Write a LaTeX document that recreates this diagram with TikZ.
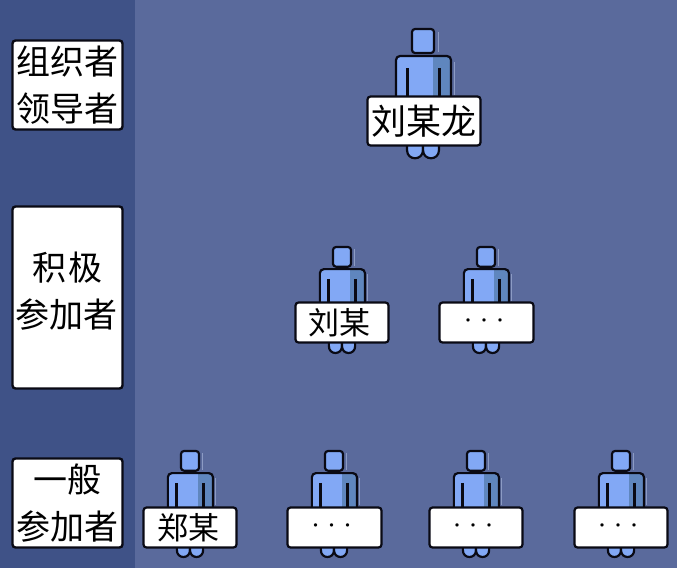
\documentclass[tikz,border=0pt]{standalone}
\usepackage{fontspec}
\newfontfamily\cjk{Noto Sans CJK SC}
\definecolor{bandc}{HTML}{3F5287}
\definecolor{mainc}{HTML}{5A6A9C}
\definecolor{skinc}{HTML}{82A8F5}
\definecolor{shadec}{HTML}{5F86BE}
\definecolor{ghostc}{HTML}{8C9BC4}
\definecolor{inkc}{HTML}{0A0A14}
\tikzset{
  x=1pt,y=-1pt,
  sidebox/.style={draw=inkc,line width=2.4pt,fill=white,rounded corners=3pt,inner sep=0pt,align=center,font=\cjk\fontsize{34}{47}\selectfont,text=black},
  namebox/.style={draw=inkc,line width=2.2pt,fill=white,rounded corners=3pt,inner sep=0pt,font=\cjk\fontsize{31}{31}\selectfont,text=black},
  bigbox/.style={namebox,font=\cjk\fontsize{35}{35}\selectfont},
  dotsbox/.style={namebox,font=\cjk\fontsize{16}{16}\selectfont},
  fig/.style={draw=inkc,line width=2.2pt,line join=round},
  pics/person/.style={code={
    % ghost edge at the right
    \draw[ghostc,line width=1pt] (15,3) -- (15,23) (31,33) -- (31,66);
    % feet
    \path[fig,fill=skinc] (-16,100) -- (-16,121) .. controls (-16,132) and (0,132) .. (0,121) -- (0,100) -- cycle;
    \path[fig,fill=skinc] (0,100) -- (0,121) .. controls (0,132) and (16,132) .. (16,121) -- (16,100) -- cycle;
    % head
    \path[fig,fill=skinc,rounded corners=3pt] (-11,0) rectangle (11,24);
    % body
    \fill[skinc,rounded corners=3pt] (-27,27) rectangle (28,72);
    \fill[shadec] (10,28) rectangle (27,72);
    \draw[fig,rounded corners=4pt] (-27,72) -- (-27,27) -- (28,27) -- (28,72);
    \draw[fig,line width=3pt] (-16,39) -- (-16,72) (16,39) -- (16,72);
  }}
}
\begin{document}
\begin{tikzpicture}
\useasboundingbox (0,0) rectangle (677,568);
\fill[mainc] (0,0) rectangle (677,568);
\fill[bandc] (0,0) rectangle (135,568);
% side labels
\node[sidebox,minimum width=110,minimum height=89] (lead) at (67.5,85) {组织者\\领导者};
\node[sidebox,minimum width=110,minimum height=182] (active) at (67.5,297.5) {积\hspace{2pt}极\\\hspace{-2pt}参加者\rule[-15pt]{0pt}{15pt}};
\node[sidebox,minimum width=110,minimum height=89] (common) at (67.5,503) {一般\\参加者};
% people
\pic at (423,29) {person};
\pic[scale=.82] at (342,247) {person};
\pic[scale=.82] at (486,247) {person};
\pic[scale=.82] at (190,451) {person};
\pic[scale=.82] at (334,451) {person};
\pic[scale=.82] at (476,451) {person};
\pic[scale=.82] at (621,451) {person};
% name plates
\node[bigbox,minimum width=113,minimum height=49] (n1) at (424,121) {刘某龙};
\node[namebox,minimum width=93,minimum height=40] (n2) at (342,322.5) {\hspace{-5pt}刘某};
\node[dotsbox,minimum width=94,minimum height=40] (n3) at (486.5,322.5) {\hspace{-5pt}···};
\node[namebox,minimum width=93,minimum height=40] (n4) at (190,527.5) {\hspace{-3pt}郑某};
\node[dotsbox,minimum width=94,minimum height=40] (n5) at (334.5,527.5) {\hspace{-6pt}\raisebox{-4pt}{···}};
\node[dotsbox,minimum width=93,minimum height=40] (n6) at (476,527.5) {\hspace{-6pt}\raisebox{-4pt}{···}};
\node[dotsbox,minimum width=93,minimum height=40] (n7) at (621,527.5) {\hspace{-6pt}\raisebox{-4pt}{···}};
\end{tikzpicture}
\end{document}
